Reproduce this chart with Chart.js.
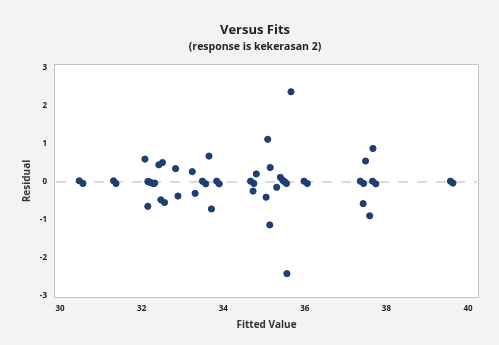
<!DOCTYPE html>
<html>
<head>
<meta charset="utf-8">
<script src="https://cdn.jsdelivr.net/npm/chart.js@4.4.1/dist/chart.umd.min.js"></script>
<style>
  html, body { margin: 0; padding: 0; background: #f3f3f1; }
  #wrap { width: 499px; height: 345px; }
</style>
</head>
<body>
<div id="wrap"><canvas id="chart"></canvas></div>
<script>
// valeurs (fitted value, residual)
const fittedValues = [
  30.47, 30.56, 31.31, 31.37,
  32.08, 32.15, 32.17, 32.22, 32.26, 32.30, 32.32, 32.15,
  32.42, 32.51, 32.47, 32.56, 32.83, 32.89, 33.24, 33.31,
  33.49, 33.57, 33.65, 33.71, 33.84, 33.90,
  34.67, 34.75, 34.73, 34.81, 35.09, 35.05, 35.15, 35.14,
  35.31, 35.40, 35.46, 35.51, 35.55, 35.66, 35.56,
  35.98, 36.06,
  37.36, 37.44, 37.49, 37.43, 37.67, 37.59, 37.66, 37.74,
  39.57, 39.63
];
const residuals = [
  0.03, -0.04, 0.03, -0.04,
  0.60, 0.01, 0.01, -0.02, -0.03, -0.04, -0.03, -0.64,
  0.45, 0.51, -0.47, -0.54, 0.35, -0.37, 0.27, -0.30,
  0.02, -0.05, 0.68, -0.71, 0.02, -0.05,
  0.02, -0.04, -0.24, 0.21, 1.12, -0.40, 0.38, -1.13,
  -0.14, 0.12, 0.04, 0.00, -0.04, 2.37, -2.41,
  0.02, -0.04,
  0.02, -0.04, 0.55, -0.57, 0.88, -0.89, 0.02, -0.05,
  0.02, -0.03
];

const xTicks = [30, 32, 34, 36, 38, 40];
const yTicks = [-3, -2, -1, 0, 1, 2, 3];
const refLineX = [29.9, 40.22];
const refLineY = [0, 0];

const titleText = "Versus Fits";
const subtitleText = "(response is kekerasan 2)";

const points = fittedValues.map((x, i) => ({ x: x, y: residuals[i] }));
const refLine = refLineX.map((x, i) => ({ x: x, y: refLineY[i] }));

// fond gris + zone de tracé blanche avec bordure + titres
const plotBg = {
  id: "plotBg",
  beforeDraw(chart) {
    const { ctx, chartArea: a } = chart;
    ctx.save();
    ctx.fillStyle = "#f3f3f1";
    ctx.fillRect(0, 0, chart.width, chart.height);
    ctx.fillStyle = "#ffffff";
    ctx.fillRect(a.left, a.top, a.right - a.left, a.bottom - a.top);
    ctx.restore();
  },
  afterDraw(chart) {
    const { ctx, chartArea: a } = chart;
    ctx.save();
    ctx.strokeStyle = "#c4c4c4";
    ctx.lineWidth = 1;
    ctx.strokeRect(a.left + 0.5, a.top + 0.5, a.right - a.left - 1, a.bottom - a.top - 1);

    ctx.fillStyle = "#222";
    ctx.textAlign = "center";
    ctx.textBaseline = "middle";
    ctx.font = "bold 13px 'Open Sans'";
    ctx.fillText(titleText, 255, 30);
    ctx.font = "bold 10.5px 'Open Sans'";
    ctx.fillText(subtitleText, 255, 47);
    ctx.restore();
  }
};

const tickFont = { family: "Open Sans", size: 8, weight: "bold" };

new Chart(document.getElementById("chart"), {
  type: "scatter",
  data: {
    datasets: [
      {
        label: "ref",
        type: "line",
        data: refLine,
        borderColor: "#b5b5b5",
        borderWidth: 1,
        borderDash: [10, 9],
        pointRadius: 0,
        order: 2
      },
      {
        label: "Residual",
        data: points,
        backgroundColor: "#1d3f72",
        borderColor: "#1d3f72",
        pointRadius: 3.1,
        order: 1
      }
    ]
  },
  plugins: [plotBg],
  options: {
    responsive: true,
    maintainAspectRatio: false,
    animation: false,
    layout: { padding: { left: 0, right: 20, top: 64, bottom: 0 } },
    plugins: {
      legend: { display: false },
      tooltip: { enabled: false },
      title: { display: false },
      subtitle: { display: false }
    },
    scales: {
      x: {
        type: "linear",
        min: 29.85,
        max: 40.27,
        afterBuildTicks: (axis) => { axis.ticks = xTicks.map(v => ({ value: v })); },
        afterFit: (axis) => { axis.height = 47; },
        grid: { display: false, drawTicks: false },
        border: { display: false },
        ticks: { color: "#222", font: tickFont, padding: 6 },
        title: {
          display: true,
          text: "Fitted Value",
          color: "#333",
          font: { family: "Open Sans", size: 10, weight: "bold" },
          padding: 14
        }
      },
      y: {
        type: "linear",
        min: -3.05,
        max: 3.1,
        afterBuildTicks: (axis) => { axis.ticks = yTicks.map(v => ({ value: v })); },
        afterFit: (axis) => { axis.width = 54; },
        grid: { display: false, drawTicks: false },
        border: { display: false },
        ticks: { color: "#222", font: tickFont, padding: 7 },
        title: {
          display: true,
          text: "Residual",
          color: "#333",
          font: { family: "Open Sans", size: 10, weight: "bold" },
          padding: 21
        }
      }
    }
  }
});
</script>
</body>
</html>
